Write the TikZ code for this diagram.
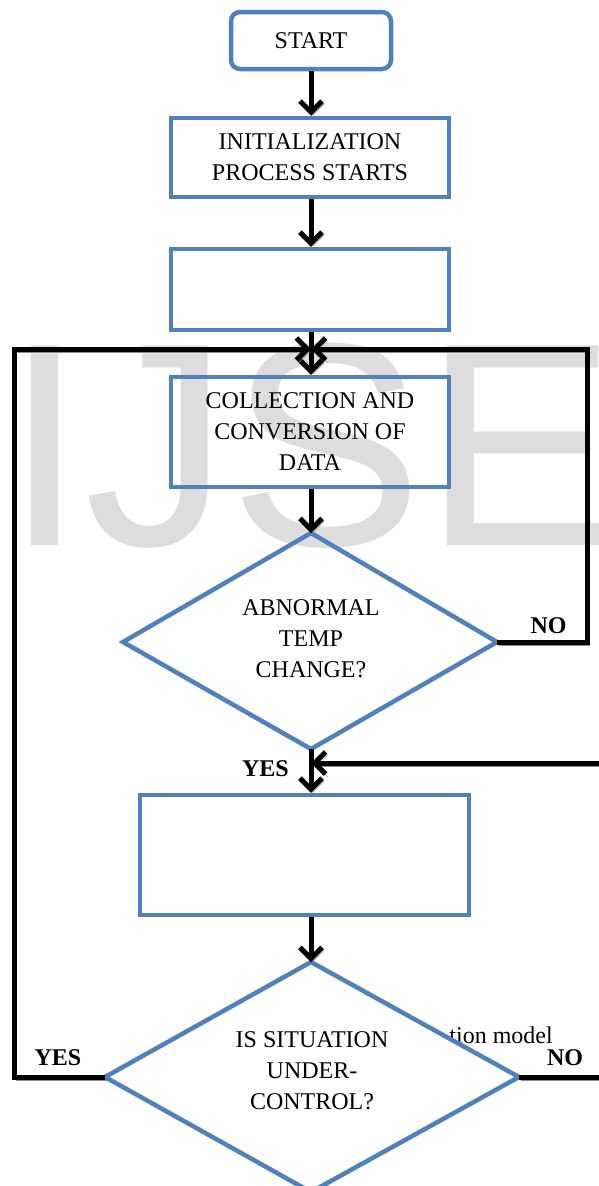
\documentclass[tikz,border=0pt]{standalone}
\usepackage{fontspec}
\setmainfont{Liberation Serif}
\newfontfamily\wmfont{Liberation Sans}
\usetikzlibrary{arrows.meta}
\definecolor{boxblue}{RGB}{79,129,189}
\definecolor{wmgray}{RGB}{221,221,221}
\definecolor{shadowgray}{RGB}{140,140,140}
\begin{document}
\begin{tikzpicture}[x=1pt,y=-1pt,
  box/.style={draw=boxblue,line width=4.5pt,inner sep=0pt,align=center,
    font=\fontsize{24}{31}\selectfont},
  txt/.style={align=center,inner sep=0pt,font=\fontsize{24}{31}\selectfont},
  lbl/.style={anchor=base,inner sep=0pt,font=\fontsize{24}{28}\selectfont\bfseries},
  shadowed/.style={preaction={draw=shadowgray,transform canvas={shift={(2pt,-3pt)}}}},
  plainline/.style={line width=5pt,shadowed},
  conn/.style={line width=5pt,-{Straight Barb[length=11pt,width=22pt]},shadowed},
  dia/.style={draw=boxblue,line width=4.5pt,line join=miter}
]
\useasboundingbox (0,0) rectangle (598,1186);
\fill[white] (0,0) rectangle (598,1186);

% watermark
\node[anchor=base west,inner sep=0pt,text=wmgray,
  font=\wmfont\fontsize{290}{290}\selectfont] (wm) at (4,545) {IJSE};

% partially hidden caption fragment
\node[anchor=base east,inner sep=0pt,font=\fontsize{24}{28}\selectfont] (cap) at (553,1043) {tion model};

% boxes
\node[box,rounded corners=9pt,minimum width=160pt,minimum height=57pt] (start) at (311,40.5) {START};
\node[box,minimum width=278pt,minimum height=79pt] (init) at (310,157.5) {INITIALIZATION\\PROCESS STARTS};
\node[box,minimum width=278pt,minimum height=81pt] (empty1) at (310,289.5) {};
\node[box,minimum width=278pt,minimum height=110pt] (collect) at (310,432) {COLLECTION AND\\CONVERSION OF\\DATA};
\node[box,minimum width=329pt,minimum height=120pt] (empty2) at (304.5,855) {};

% diamond 1
\coordinate (d1T) at (311,533);
\coordinate (d1L) at (123,642);
\coordinate (d1R) at (497,642);
\coordinate (d1B) at (311,749);
\draw[dia] (d1T) -- (d1R) -- (d1B) -- (d1L) -- cycle;
\node[txt] (d1) at (311,639) {ABNORMAL\\TEMP\\CHANGE?};

% diamond 2
\coordinate (d2T) at (311,962);
\coordinate (d2L) at (105,1077);
\coordinate (d2R) at (519,1077);
\coordinate (d2B) at (311,1192);
\filldraw[dia,fill=white] (d2T) -- (d2R) -- (d2B) -- (d2L) -- cycle;
\node[txt] (d2) at (312,1071) {IS SITUATION\\UNDER-\\CONTROL?};

% helper coordinates
\coordinate (merge) at (311,349);
\coordinate (cornerL) at (14,349);
\coordinate (cornerR) at (587,349);
\coordinate (mergeB) at (311,763);
\coordinate (inR) at (601,763);
\coordinate (outR) at (601,1077);

% straight arrows
\draw[conn] (start.south) -- (init.north -| start.south);
\draw[conn] (init.south -| start.south) -- (empty1.north -| start.south);
\draw[conn] (empty1.south -| start.south) -- (collect.north -| start.south);
\draw[conn] (collect.south -| start.south) -- (d1T);
\draw[conn] (d1B) -- (empty2.north -| d1B);
\draw[conn] (empty2.south -| d1B) -- (d2T);

% loops
\draw[conn] (d1R) -| (cornerR) -- (merge);
\draw[conn] (d2L) -| (cornerL) -- (merge);
\draw[conn] (inR) -- (mergeB);
\draw[plainline] (d2R) -- (outR);

% labels
\node[lbl] (no1) at (548.5,633) {NO};
\node[lbl] (yes1) at (265.5,776) {YES};
\node[lbl] (yes2) at (58,1065) {YES};
\node[lbl] (no2) at (565,1065) {NO};
\end{tikzpicture}
\end{document}
